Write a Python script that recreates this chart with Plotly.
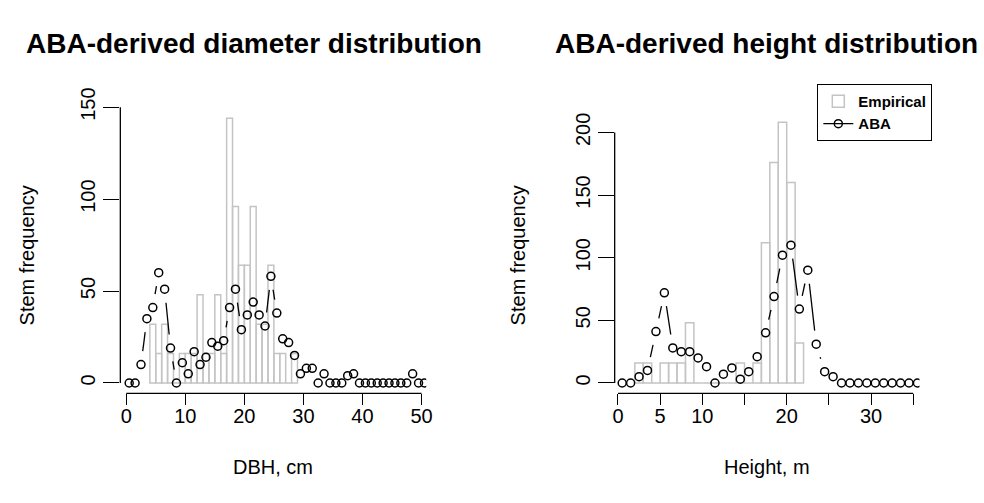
import math
import plotly.graph_objects as go

# ---------------- data ----------------
# Left panel: DBH (cm), 1-cm bins
dbh_bin_left = [4, 5, 6, 7, 8, 9, 10, 11, 12, 13, 14, 15, 16, 17, 18, 19, 20,
                21, 22, 23, 24, 25, 26, 27, 28]
dbh_emp = [32, 16, 32, 16, 0, 16, 16, 16, 48, 16, 16, 48, 16, 144, 96, 64, 64,
           96, 32, 32, 64, 16, 16, 0, 16]
dbh_mid = [i + 0.5 for i in range(51)]
dbh_aba = [0, 0, 10, 35, 41, 60, 51, 19, 0, 11, 5, 17, 10, 14, 22, 20, 23, 41,
           51, 29, 37, 44, 37, 31, 58, 38, 24, 22, 15, 5, 8, 8, 0, 5, 0, 0, 0,
           4, 5, 0, 0, 0, 0, 0, 0, 0, 0, 0, 5, 0, 0]

# Right panel: height (m), 1-m bins
ht_bin_left = [2, 3, 4, 5, 6, 7, 8, 9, 10, 11, 12, 13, 14, 15, 16, 17, 18, 19,
               20, 21]
ht_emp = [16, 16, 0, 16, 16, 16, 48, 0, 0, 0, 0, 0, 16, 0, 16, 112, 176, 208,
          160, 32]
ht_mid = [i + 0.5 for i in range(36)]
ht_aba = [0, 0, 5, 10, 41, 72, 28, 25, 25, 20, 13, 0, 7, 12, 3, 9, 21, 40, 69,
          102, 110, 59, 90, 31, 9, 5, 0, 0, 0, 0, 0, 0, 0, 0, 0, 0]

dbh_xticks = [0, 10, 20, 30, 40, 50]
dbh_yticks = [0, 50, 100, 150]
ht_xticks = [0, 5, 10, 15, 20, 25, 30, 35]
ht_xticktext = ["0", "5", "10", "", "20", "", "30", ""]
ht_yticks = [0, 50, 100, 150, 200]

titles = ["ABA-derived diameter distribution", "ABA-derived height distribution"]
xlabels = ["DBH, cm", "Height, m"]
ylabel = "Stem frequency"

# ---------------- geometry ----------------
W, H = 984, 503
TOP, BOT = 90, 390
L1, R1 = 119.3, 427.7
L2, R2 = 617.7, 925.0
x1_range = [-1.0, 50.8]
x2_range = [-0.39, 35.74]
y1_range = [-5.645, 152.63]
y2_range = [-8.285, 224.0]

FONT = "Liberation Sans, Arial, Helvetica, sans-serif"
GRAY = "#C4C4C4"
GAP = 14.0  # px gap around points for R type="b" lines


def px_scale(rng, a, b):
    return (b - a) / (rng[1] - rng[0])


def gapped(xs, ys, sx, sy):
    gx, gy = [], []
    for i in range(len(xs) - 1):
        dx = (xs[i + 1] - xs[i]) * sx
        dy = (ys[i + 1] - ys[i]) * sy
        L = math.hypot(dx, dy)
        if L > 2 * GAP:
            f = GAP / L
            gx += [xs[i] + f * (xs[i + 1] - xs[i]), xs[i + 1] - f * (xs[i + 1] - xs[i]), None]
            gy += [ys[i] + f * (ys[i + 1] - ys[i]), ys[i + 1] - f * (ys[i + 1] - ys[i]), None]
    return gx, gy


fig = go.Figure()

panels = [
    dict(bl=dbh_bin_left, emp=dbh_emp, mid=dbh_mid, aba=dbh_aba, xa="x", ya="y",
         xr=x1_range, yr=y1_range, L=L1, R=R1, leg=False),
    dict(bl=ht_bin_left, emp=ht_emp, mid=ht_mid, aba=ht_aba, xa="x2", ya="y2",
         xr=x2_range, yr=y2_range, L=L2, R=R2, leg=True),
]

for p in panels:
    fig.add_trace(go.Bar(
        x=[b + 0.5 for b in p["bl"]], y=p["emp"], width=1,
        marker=dict(color="rgba(0,0,0,0)", line=dict(color=GRAY, width=1.5)),
        xaxis=p["xa"], yaxis=p["ya"], name="Empirical", showlegend=p["leg"]))
    sx = px_scale(p["xr"], p["L"], p["R"])
    sy = px_scale(p["yr"], TOP, BOT)
    gx, gy = gapped(p["mid"], p["aba"], sx, sy)
    fig.add_trace(go.Scatter(
        x=gx, y=gy, mode="lines", line=dict(color="black", width=1.3),
        xaxis=p["xa"], yaxis=p["ya"], showlegend=False, hoverinfo="skip"))
    fig.add_trace(go.Scatter(
        x=p["mid"], y=p["aba"], mode="markers",
        marker=dict(symbol="circle-open", size=8, color="black",
                    line=dict(width=1.5, color="black")),
        xaxis=p["xa"], yaxis=p["ya"], showlegend=False))

# legend entry for ABA (line + point)
fig.add_trace(go.Scatter(
    x=[None], y=[None], mode="lines+markers", name="ABA",
    line=dict(color="black", width=1.3),
    marker=dict(symbol="circle-open", size=8, color="black", line=dict(width=1.5)),
    xaxis="x2", yaxis="y2"))

dom_y = [1 - BOT / H, 1 - TOP / H]
axfont = dict(family=FONT, size=20, color="black")
common_x = dict(showgrid=False, zeroline=False, showline=False, ticks="outside",
                ticklen=11, tickwidth=1.3, tickcolor="black", tickfont=axfont,
                ticklabelstandoff=-6)
common_y = dict(showgrid=False, zeroline=False, showline=False, ticks="outside",
                ticklen=16, tickwidth=1.3, tickcolor="black", tickfont=axfont,
                tickangle=-90)

fig.update_layout(
    width=W, height=H, autosize=False,
    margin=dict(l=0, r=0, t=0, b=0),
    paper_bgcolor="white", plot_bgcolor="white",
    barmode="overlay",
    xaxis=dict(domain=[L1 / W, R1 / W], range=x1_range, tickvals=dbh_xticks,
               anchor="y", **common_x),
    yaxis=dict(domain=dom_y, range=y1_range, tickvals=dbh_yticks, anchor="x",
               **common_y),
    xaxis2=dict(domain=[L2 / W, R2 / W], range=x2_range, tickvals=ht_xticks,
                ticktext=ht_xticktext, anchor="y2", **common_x),
    yaxis2=dict(domain=dom_y, range=y2_range, tickvals=ht_yticks, anchor="x2",
                **common_y),
    legend=dict(x=822 / W, y=1 - 71 / H, xanchor="left", yanchor="top",
                bordercolor="black", borderwidth=1, bgcolor="white",
                font=dict(family=FONT, size=15, color="black", weight="bold"),
                traceorder="normal", itemwidth=30, tracegroupgap=0),
    showlegend=True,
)

# axis lines spanning first..last tick (R style)
shapes = []
for xa, ya, xt, yt, L in [("x", "y", dbh_xticks, dbh_yticks, L1),
                          ("x2", "y2", ht_xticks, ht_yticks, L2)]:
    shapes.append(dict(type="line", xref=xa, yref="paper", x0=xt[0], x1=xt[-1],
                       y0=dom_y[0], y1=dom_y[0], line=dict(color="black", width=1.3)))
    shapes.append(dict(type="line", xref="paper", yref=ya, x0=L / W, x1=L / W,
                       y0=yt[0], y1=yt[-1], line=dict(color="black", width=1.3)))
fig.update_layout(shapes=shapes)

ann = []
for i, (cx, tcx) in enumerate([((L1 + R1) / 2, 254.5), ((L2 + R2) / 2, 771.0)]):
    ann.append(dict(text=titles[i], x=tcx / W, y=1 - 29 / H, xref="paper", yref="paper",
                    showarrow=False, xanchor="center", yanchor="middle",
                    font=dict(family=FONT, size=28, color="black", weight="bold")))
    ann.append(dict(text=xlabels[i], x=cx / W, y=1 - 466 / H, xref="paper", yref="paper",
                    showarrow=False, xanchor="center", yanchor="middle",
                    font=dict(family=FONT, size=20, color="black")))
    lx = [25, 520][i]
    ann.append(dict(text=ylabel, x=lx / W, y=1 - 248 / H, xref="paper", yref="paper",
                    showarrow=False, xanchor="center", yanchor="middle", textangle=-90,
                    font=dict(family=FONT, size=20, color="black")))
fig.update_layout(annotations=ann)

fig.write_html("out.html")
